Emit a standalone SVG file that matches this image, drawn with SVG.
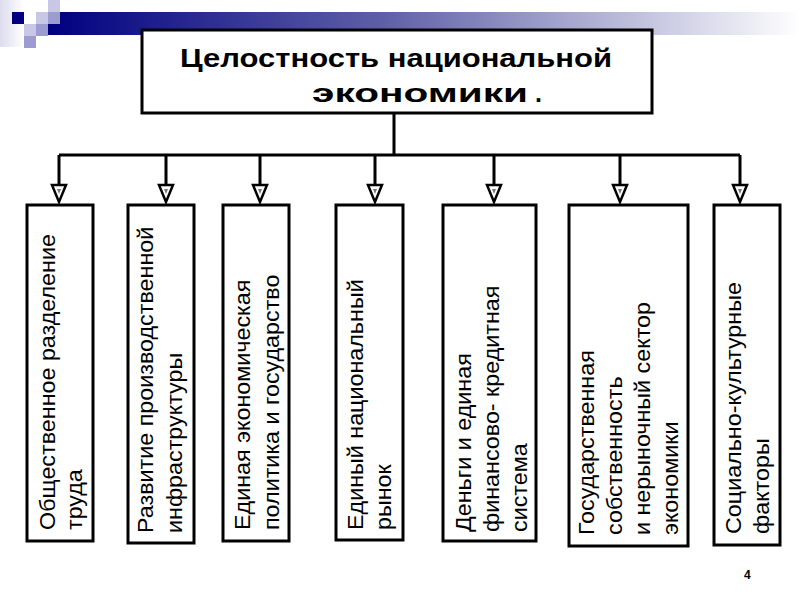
<svg xmlns="http://www.w3.org/2000/svg" width="800" height="600" viewBox="0 0 800 600">
<defs>
<linearGradient id="bar" x1="0" y1="0" x2="1" y2="0">
<stop offset="0" stop-color="#000080"/>
<stop offset="0.45" stop-color="#6060a8"/>
<stop offset="1" stop-color="#ffffff"/>
</linearGradient>
<linearGradient id="fade" x1="0" y1="0" x2="1" y2="0">
<stop offset="0" stop-color="#dcdcee"/>
<stop offset="1" stop-color="#ffffff"/>
</linearGradient>
<g id="arrow">
<polygon points="-7,0 7,0 0,17" fill="#ffffff" stroke="#000" stroke-width="2.5" stroke-linejoin="miter"/>
<polygon points="-2,4 2,4 0,9" fill="#777"/>
</g>
</defs>
<style>
.box{fill:#fff;stroke:#000;stroke-width:3}
.conn{fill:none;stroke:#000;stroke-width:3}
.lbl{font-family:"Liberation Sans",Arial,sans-serif;font-size:22px;fill:#000}
.title{font-family:"Liberation Sans",Arial,sans-serif;font-size:25px;font-weight:bold;fill:#000}
</style>
<rect width="800" height="600" fill="#fff"/>
<g id="decor">
<rect x="0" y="0" width="24" height="47" fill="url(#fade)"/>
<rect x="48" y="12" width="752" height="23" fill="url(#bar)"/>
<rect x="12" y="12" width="12" height="12" fill="#000080"/>
<rect x="48" y="0" width="12" height="12" fill="#c8c8e6"/>
<rect x="36" y="12" width="12" height="12" fill="#c8c8e6"/>
<rect x="48" y="12" width="12" height="12" fill="#9c9cd0"/>
<rect x="24" y="24" width="12" height="12" fill="#c8c8e6"/>
<rect x="36" y="24" width="12" height="12" fill="#9c9cd0"/>
<rect x="24" y="36" width="12" height="12" fill="#9c9cd0"/>
</g>
<g id="connectors">
<path class="conn" d="M394,113 V155 M59,155 H740 M59,155 V186 M166,155 V186 M260,155 V186 M375,155 V186 M494,155 V186 M620,155 V186 M740,155 V186"/>
<use href="#arrow" x="59" y="185"/>
<use href="#arrow" x="166" y="185"/>
<use href="#arrow" x="260" y="185"/>
<use href="#arrow" x="375" y="185"/>
<use href="#arrow" x="494" y="185"/>
<use href="#arrow" x="620" y="185"/>
<use href="#arrow" x="740" y="185"/>
</g>
<g id="title">
<rect class="box" x="142" y="30" width="510" height="83"/>
<text class="title" x="180" y="67" textLength="432" lengthAdjust="spacingAndGlyphs">Целостность национальной</text>
<text class="title" x="312" y="102" font-size="37" textLength="216" lengthAdjust="spacingAndGlyphs">экономики</text>
<text class="title" x="535" y="102" font-size="30" font-weight="normal">.</text>
</g>
<g id="n1">
<rect class="box" x="27" y="205" width="66" height="336"/>
<text class="lbl" transform="translate(55,530) rotate(-90) scale(1.06,1)"><tspan x="0" y="0">Общественное разделение</tspan><tspan x="0" y="27">труда</tspan></text>
</g>
<g id="n2">
<rect class="box" x="128" y="205" width="66" height="338"/>
<text class="lbl" transform="translate(153,533) rotate(-90) scale(1.06,1)"><tspan x="0" y="0">Развитие производственной</tspan><tspan x="0" y="29">инфраструктуры</tspan></text>
</g>
<g id="n3">
<rect class="box" x="223" y="205" width="66" height="336"/>
<text class="lbl" transform="translate(250,530) rotate(-90) scale(1.06,1)"><tspan x="0" y="0">Единая экономическая</tspan><tspan x="0" y="29">политика и государство</tspan></text>
</g>
<g id="n4">
<rect class="box" x="336" y="205" width="67" height="335"/>
<text class="lbl" transform="translate(363,530) rotate(-90) scale(1.06,1)"><tspan x="0" y="0">Единый национальный</tspan><tspan x="0" y="28">рынок</tspan></text>
</g>
<g id="n5">
<rect class="box" x="443" y="205" width="93" height="336"/>
<text class="lbl" transform="translate(471,532) rotate(-90) scale(1.06,1)"><tspan x="0" y="0">Деньги и единая</tspan><tspan x="0" y="28">финансово- кредитная</tspan><tspan x="0" y="56">система</tspan></text>
</g>
<g id="n6">
<rect class="box" x="569" y="205" width="119" height="341"/>
<text class="lbl" transform="translate(594,535) rotate(-90) scale(1.06,1)"><tspan x="0" y="0">Государственная</tspan><tspan x="0" y="28">собственность</tspan><tspan x="0" y="56">и нерыночный сектор</tspan><tspan x="0" y="84">экономики</tspan></text>
</g>
<g id="n7">
<rect class="box" x="714" y="205" width="66" height="340"/>
<text class="lbl" transform="translate(741,534) rotate(-90) scale(1.06,1)"><tspan x="0" y="0">Социально-культурные</tspan><tspan x="0" y="28">факторы</tspan></text>
</g>
<text x="744" y="579" font-family="'Liberation Sans',Arial,sans-serif" font-size="12" font-weight="bold">4</text>
</svg>
